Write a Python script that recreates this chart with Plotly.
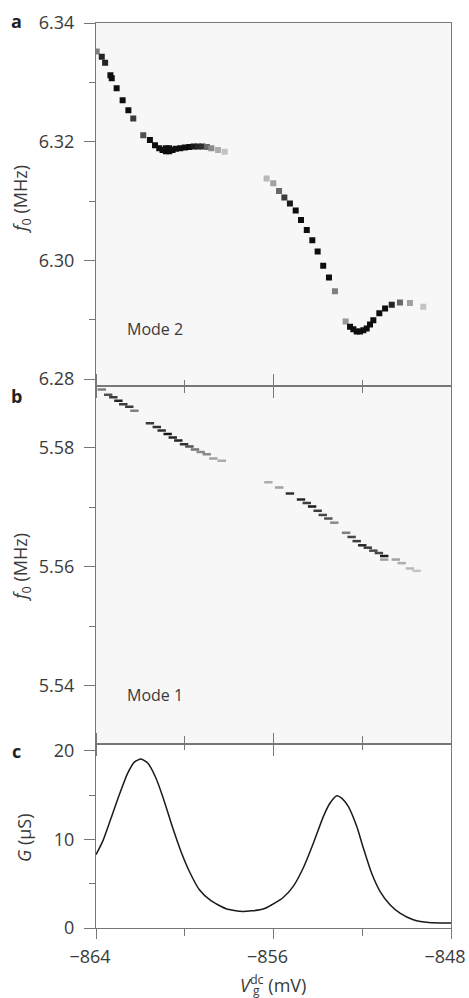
import plotly.graph_objects as go

# ---------------- data ----------------
# Panel a: Mode 2 resonance (gate voltage mV, frequency MHz, response level 0..1)
a_v = [-863.97, -863.74, -863.59, -863.35, -863.29, -863.07, -862.80, -862.54, -862.32,
       -861.87, -861.57, -861.34,
       -861.15, -861.00, -860.85, -860.85, -860.70, -860.70, -860.55, -860.40, -860.20,
       -860.00, -859.80, -859.60, -859.40, -859.20, -859.00, -858.80, -858.50, -858.20,
       -856.31, -856.01, -855.75, -855.51, -855.26, -855.00, -854.76, -854.50, -854.25,
       -854.01, -853.76, -853.50, -853.23,
       -852.75, -852.55, -852.40, -852.25, -852.10, -851.95, -851.80, -851.65, -851.50,
       -851.23, -850.97, -850.67, -850.30, -849.85, -849.25]
a_f = [6.3352, 6.3343, 6.3333, 6.3312, 6.3307, 6.3290, 6.3270, 6.3253, 6.3239,
       6.3211, 6.3203, 6.3194,
       6.3189, 6.3186, 6.3184, 6.3189, 6.3184, 6.3189, 6.3186, 6.3188, 6.3189,
       6.3190, 6.3191, 6.3192, 6.3192, 6.3192, 6.3191, 6.3189, 6.3186, 6.3183,
       6.3138, 6.3130, 6.3117, 6.3106, 6.3096, 6.3084, 6.3068, 6.3051, 6.3034,
       6.3015, 6.2991, 6.2971, 6.2948,
       6.2897, 6.2888, 6.2884, 6.2880, 6.2880, 6.2882, 6.2885, 6.2892, 6.2899,
       6.2911, 6.2919, 6.2925, 6.2929, 6.2928, 6.2922]
a_lvl = [0.5, 0.9, 0.9, 1.0, 1.0, 1.0, 1.0, 1.0, 0.8,
         0.7, 1.0, 1.0,
         1.0, 1.0, 1.0, 1.0, 1.0, 1.0, 1.0, 1.0, 1.0,
         1.0, 1.0, 0.95, 0.9, 0.85, 0.6, 0.45, 0.3, 0.2,
         0.25, 0.35, 0.6, 0.8, 0.95, 1.0, 1.0, 1.0, 1.0,
         1.0, 1.0, 1.0, 0.5,
         0.4, 1.0, 1.0, 1.0, 1.0, 1.0, 1.0, 1.0, 1.0,
         1.0, 1.0, 0.9, 0.6, 0.35, 0.2]

# Panel b: Mode 1 resonance
b_v = [-863.74, -863.45, -863.22, -862.99, -862.77, -862.50, -862.27,
       -861.57, -861.26, -861.04, -860.77, -860.54, -860.29, -860.03, -859.79, -859.54,
       -859.28, -859.01, -858.71, -858.33,
       -856.23, -855.74, -855.26, -854.76, -854.50, -854.26, -854.01, -853.78, -853.53,
       -853.26, -852.73, -852.48, -852.25, -852.00, -851.75, -851.50, -851.25, -851.01,
       -851.01, -850.49, -850.22, -849.85, -849.55]
b_f = [5.5898, 5.5889, 5.5885, 5.5879, 5.5873, 5.5869, 5.5862,
       5.5841, 5.5835, 5.5829, 5.5823, 5.5817, 5.5812, 5.5806, 5.5802, 5.5797,
       5.5793, 5.5789, 5.5782, 5.5778,
       5.5742, 5.5733, 5.5723, 5.5713, 5.5707, 5.5701, 5.5694, 5.5687, 5.5681,
       5.5674, 5.5657, 5.5650, 5.5643, 5.5636, 5.5632, 5.5627, 5.5623, 5.5618,
       5.5612, 5.5612, 5.5606, 5.5597, 5.5593]
b_lvl = [0.5, 0.7, 0.8, 0.9, 0.8, 0.8, 0.5,
         0.8, 0.85, 0.85, 0.95, 0.9, 0.9, 0.85, 0.7, 0.55,
         0.45, 0.45, 0.35, 0.3,
         0.3, 0.35, 0.85, 0.9, 0.8, 0.95, 0.8, 0.75, 0.7,
         0.45, 0.5, 0.75, 0.8, 0.9, 0.8, 0.75, 0.75, 0.95,
         0.35, 0.35, 0.3, 0.25, 0.2]

# Panel c: conductance
c_v = [-864.00, -863.70, -863.32, -862.95, -862.57, -862.27, -861.97, -861.67, -861.30,
       -860.92, -860.54, -860.17, -859.79, -859.34, -858.82, -858.14, -857.39, -856.61,
       -856.34, -855.59, -855.11, -854.66, -854.20, -853.75, -853.45,
       -853.15, -852.93, -852.63, -852.25, -851.95, -851.58, -851.20, -850.75, -850.30,
       -849.70, -849.10, -848.50, -848.00]
c_g = [8.27, 9.77, 12.41, 15.04, 17.48, 18.72, 19.06, 18.61, 16.92,
       14.28, 11.28, 8.64, 6.38, 4.32, 3.08, 2.18, 1.87, 2.05,
       2.26, 3.38, 4.70, 6.77, 9.59, 12.60, 14.10,
       14.93, 14.66, 13.72, 11.47, 9.02, 6.20, 4.14, 2.63, 1.69,
       0.94, 0.64, 0.56, 0.56]

x_major = [-864, -856, -848]
x_minor = [-860, -852]
x_ticktext = ["\u2212864", "\u2212856", "\u2212848"]
a_major = [6.28, 6.30, 6.32, 6.34]
a_minor = [6.29, 6.31, 6.33]
b_major = [5.54, 5.56, 5.58]
b_minor = [5.55, 5.57]
c_major = [0, 10, 20]
c_minor = [5, 15]


def gray(l):
    g = int(round(240 - l * 226))
    return f"rgb({g},{g},{g})"


FONT = "Open Sans"
TXT = "#3a3a3a"
LINE = "#777777"

fig = go.Figure()
fig.add_trace(go.Scatter(
    x=a_v, y=a_f, mode="markers", xaxis="x", yaxis="y", showlegend=False,
    marker=dict(symbol="square", size=6, color=[gray(l) for l in a_lvl],
                line=dict(width=0))))
fig.add_trace(go.Scatter(
    x=b_v, y=b_f, mode="markers", xaxis="x2", yaxis="y2", showlegend=False,
    marker=dict(symbol="line-ew", size=6, color=[gray(l) for l in b_lvl],
                line=dict(width=2.5, color=[gray(l) for l in b_lvl]))))
fig.add_trace(go.Scatter(
    x=c_v, y=c_g, mode="lines", xaxis="x3", yaxis="y3", showlegend=False,
    line=dict(color="#1a1a1a", width=1.5, shape="spline", smoothing=0.6)))

dom_c = [0, 0.2033]
dom_b = [0.2033, 0.5992]
dom_a = [0.5992, 1]

common_x = dict(range=[-864, -848], showline=True, linecolor=LINE, linewidth=1.2,
                showgrid=False, zeroline=False, ticks="outside", tickcolor=LINE,
                tickwidth=1.2, tickvals=x_major, ticktext=x_ticktext, automargin=False)
common_y = dict(showline=True, linecolor=LINE, linewidth=1.2, mirror=True,
                showgrid=False, zeroline=False, ticks="outside", tickcolor=LINE,
                tickwidth=1.2, ticklen=11, automargin=False, ticklabelstandoff=6,
                tickfont=dict(family=FONT, size=18, color=TXT))

fig.update_layout(
    width=469, height=998,
    margin=dict(l=96, r=18, t=23, b=70),
    paper_bgcolor="white", plot_bgcolor="white",
    xaxis=dict(common_x, anchor="y", mirror=True, ticklen=11, showticklabels=False,
               minor=dict(tickvals=x_minor, ticklen=6, ticks="outside", tickcolor=LINE, tickwidth=1.2)),
    xaxis2=dict(common_x, anchor="y2", matches="x", mirror="ticks", ticklen=11, showticklabels=False,
                minor=dict(tickvals=x_minor, ticklen=5, ticks="outside", tickcolor=LINE, tickwidth=1.2)),
    xaxis3=dict(common_x, anchor="y3", matches="x", mirror="ticks", ticklen=10, showticklabels=True,
                ticklabeloverflow="allow", ticklabelshift=-6, ticklabelstandoff=2,
                tickfont=dict(family=FONT, size=18, color=TXT),
                minor=dict(tickvals=x_minor, ticklen=7, ticks="outside", tickcolor=LINE, tickwidth=1.2)),
    yaxis=dict(common_y, domain=dom_a, anchor="x", range=[6.27887, 6.34], tickvals=a_major,
               ticktext=[f"{v:.2f}" for v in a_major],
               minor=dict(tickvals=a_minor, ticklen=6, ticks="outside", tickcolor=LINE, tickwidth=1.2)),
    yaxis2=dict(common_y, domain=dom_b, anchor="x2", range=[5.5302, 5.59042], tickvals=b_major,
                ticktext=[f"{v:.2f}" for v in b_major],
                minor=dict(tickvals=b_minor, ticklen=6, ticks="outside", tickcolor=LINE, tickwidth=1.2)),
    yaxis3=dict(common_y, domain=dom_c, anchor="x3", range=[0, 20.76], tickvals=c_major,
                ticktext=[str(v) for v in c_major],
                minor=dict(tickvals=c_minor, ticklen=6, ticks="outside", tickcolor=LINE, tickwidth=1.2)),
)

# light image background of the two spectrogram panels
for xr, yr in (("x domain", "y domain"), ("x2 domain", "y2 domain")):
    fig.add_shape(type="rect", xref=xr, yref=yr, x0=0, x1=1, y0=0, y1=1,
                  fillcolor="#f7f7f7", line=dict(width=0), layer="below")

W = 469 - 96 - 18
H = 998 - 23 - 70


def px(xp):
    return (xp - 96) / W


def py(yp):
    return 1 - (yp - 23) / H


ann = []
# panel letters
for letter, yp in (("a", 21), ("b", 396), ("c", 751)):
    ann.append(dict(text=f"<b>{letter}</b>", x=px(16), y=py(yp), xref="paper", yref="paper",
                    showarrow=False, font=dict(family=FONT, size=18, color="#222"),
                    xanchor="center", yanchor="middle"))
# y titles
for t, yp, xp in (("<i>f</i><sub>0</sub> (MHz)", 200, 21), ("<i>f</i><sub>0</sub> (MHz)", 568, 21),
                  ("<i>G</i> (\u03bcS)", 838, 24)):
    ann.append(dict(text=t, x=px(xp), y=py(yp), xref="paper", yref="paper", textangle=-90,
                    showarrow=False, font=dict(family=FONT, size=18, color=TXT),
                    xanchor="center", yanchor="middle"))
# mode labels
ann.append(dict(text="Mode 2", x=px(125), y=py(329), xref="paper", yref="paper", showarrow=False,
                font=dict(family=FONT, size=16, color=TXT), xanchor="left", yanchor="middle"))
ann.append(dict(text="Mode 1", x=px(125), y=py(695), xref="paper", yref="paper", showarrow=False,
                font=dict(family=FONT, size=16, color=TXT), xanchor="left", yanchor="middle"))
# x title (V with stacked sub/superscript)
ann.append(dict(text="<i>V</i><sup>dc</sup> (mV)", x=px(238), y=py(984), xref="paper", yref="paper",
                showarrow=False, font=dict(family=FONT, size=18, color=TXT),
                xanchor="left", yanchor="middle"))
ann.append(dict(text="g", x=px(251), y=py(990), xref="paper", yref="paper",
                showarrow=False, font=dict(family=FONT, size=12, color=TXT),
                xanchor="left", yanchor="middle"))
fig.update_layout(annotations=ann)

fig.write_html("out.html")
